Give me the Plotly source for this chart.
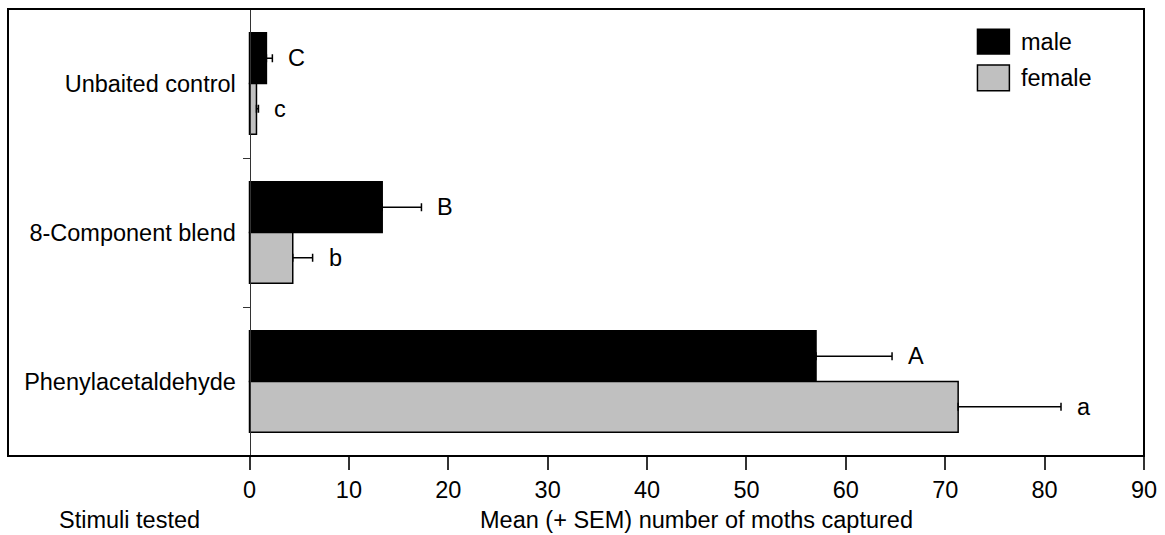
import plotly.graph_objects as go

# ---- data ----
categories = ["Unbaited control", "8-Component blend", "Phenylacetaldehyde"]
male_mean = [1.7, 13.35, 57.0]
male_sem = [0.6, 3.95, 7.65]
female_mean = [0.7, 4.35, 71.3]
female_sem = [0.2, 2.0, 10.35]
male_letters = ["C", "B", "A"]
female_letters = ["c", "b", "a"]
x_ticks = [0, 10, 20, 30, 40, 50, 60, 70, 80, 90]

FONT = "Liberation Sans, Arial, sans-serif"
FS = 23.5
XMIN, XMAX = -24.3, 90
BARGAP = 0.32

fig = go.Figure()
fig.add_trace(go.Bar(
    name="male", y=categories, x=male_mean, orientation="h",
    marker=dict(color="black", line=dict(color="black", width=1.5)),
    error_x=dict(type="data", array=male_sem, arrayminus=[0] * len(male_sem),
                 symmetric=False, color="black", thickness=1.5, width=4),
))
fig.add_trace(go.Bar(
    name="female", y=categories, x=female_mean, orientation="h",
    marker=dict(color="#c0c0c0", line=dict(color="black", width=1.5)),
    error_x=dict(type="data", array=female_sem, arrayminus=[0] * len(female_sem),
                 symmetric=False, color="black", thickness=1.5, width=4),
))

off = (1 - BARGAP) / 4
for i in range(len(categories)):
    fig.add_annotation(x=male_mean[i] + male_sem[i], y=i - off, xref="x", yref="y",
                       text=male_letters[i], showarrow=False, xanchor="left",
                       xshift=14, font=dict(size=FS, family=FONT, color="black"))
    fig.add_annotation(x=female_mean[i] + female_sem[i], y=i + off, xref="x", yref="y",
                       text=female_letters[i], showarrow=False, xanchor="left",
                       xshift=14, font=dict(size=FS, family=FONT, color="black"))

# axis titles
fig.add_annotation(x=45, y=0, xref="x", yref="paper", yanchor="middle", yshift=-64,
                   text="Mean (+ SEM) number of moths captured", showarrow=False,
                   font=dict(size=FS, family=FONT, color="black"))
fig.add_annotation(x=-19.4, y=0, xref="x", yref="paper", yanchor="middle", yshift=-64,
                   xanchor="left", text="Stimuli tested", showarrow=False,
                   font=dict(size=FS, family=FONT, color="black"))

# legend (drawn manually to match the large swatches)
leg = [("male", "black", 0.8993, 0.9546, 0.9261), ("female", "#c0c0c0", 0.8171, 0.8746, 0.8455)]
for name, col, y0, y1, yt in leg:
    fig.add_shape(type="rect", xref="paper", yref="paper", x0=0.8534, x1=0.8815,
                  y0=y0, y1=y1, fillcolor=col, line=dict(color="black", width=1.5))
    fig.add_annotation(x=0.8903, y=yt, xref="paper", yref="paper", xanchor="left",
                       yanchor="middle", text=name, showarrow=False,
                       font=dict(size=FS, family=FONT, color="black"))

# outer frame
fig.add_shape(type="rect", xref="paper", yref="paper", x0=0, x1=1, y0=0, y1=1,
              line=dict(color="black", width=2), layer="above")

fig.update_layout(
    width=1165, height=535,
    margin=dict(l=8, r=18, t=9, b=79),
    paper_bgcolor="white", plot_bgcolor="white",
    barmode="group", bargap=BARGAP, bargroupgap=0,
    showlegend=False,
    font=dict(family=FONT, size=FS, color="black"),
    xaxis=dict(range=[XMIN, XMAX], tickvals=x_ticks, ticks="outside", ticklen=13,
               tickwidth=1.5, tickcolor="#333", showgrid=False, zeroline=False,
               showline=False, tickfont=dict(size=FS, family=FONT, color="black")),
    yaxis=dict(anchor="free", position=-XMIN / (XMAX - XMIN),
               autorange="reversed", showline=True, linecolor="#333", linewidth=1,
               ticks="outside", tickson="boundaries", ticklen=7, tickcolor="#333",
               tickwidth=1, showgrid=False, zeroline=False, ticklabelstandoff=9,
               tickfont=dict(size=FS, family=FONT, color="black")),
)

fig.write_html("out.html", config={"displayModeBar": False},
               post_script="document.body.style.margin='0';document.body.style.overflow='hidden';")
